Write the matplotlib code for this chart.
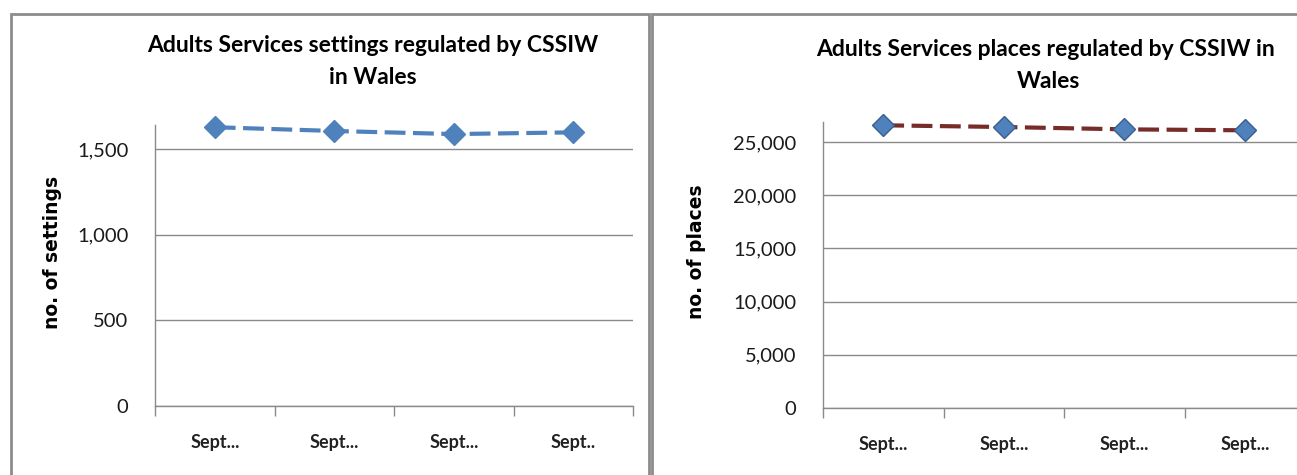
import matplotlib
matplotlib.use("Agg")
import matplotlib.pyplot as plt
from matplotlib.ticker import FuncFormatter, FixedLocator
from matplotlib.patches import Rectangle

categories = ["Sept...", "Sept...", "Sept...", "Sept.."]
categories_r = ["Sept...", "Sept...", "Sept...", "Sept..."]
settings = [1629, 1607, 1589, 1599]
places = [26570, 26410, 26190, 26100]
settings_ticks = [0, 500, 1000, 1500]
places_ticks = [0, 5000, 10000, 15000, 20000, 25000]

W, H = 1297, 475
fig = plt.figure(figsize=(W / 100, H / 100), dpi=100)
fig.patch.set_facecolor("white")

border = "#8c8c8c"
grid = "#8a8a8a"
FONT = "Lato"

def fx(px):
    return px / W

def fy(py):
    return 1 - py / H

# chart borders
fig.add_artist(Rectangle((fx(11), fy(490)), fx(649 - 11), (490 - 14) / H,
                         transform=fig.transFigure, fill=False, ec=border, lw=2))
fig.add_artist(Rectangle((fx(652), fy(490)), fx(1320 - 652), (490 - 14) / H,
                         transform=fig.transFigure, fill=False, ec=border, lw=2))

def style(ax, ticks, ymax, labels):
    n = len(labels)
    ax.set_xlim(0, n)
    ax.set_ylim(0, ymax)
    ax.yaxis.set_major_locator(FixedLocator(ticks))
    ax.yaxis.set_major_formatter(FuncFormatter(lambda v, p: f"{int(v):,}"))
    ax.set_xticks(range(n + 1))
    ax.set_xticklabels([])
    ax.set_xticks([i + 0.5 for i in range(n)], minor=True)
    ax.set_xticklabels(labels, minor=True, fontsize=13, fontfamily=FONT, fontweight="bold", color="#222222")
    ax.tick_params(axis="x", which="major", length=7, color=grid, width=1)
    ax.tick_params(axis="x", which="minor", length=0, pad=20)
    ax.tick_params(axis="y", length=0, pad=19, labelsize=14.5, labelcolor="#1a1a1a")
    for lab in ax.get_yticklabels():
        lab.set_fontfamily(FONT)
    for s in ["top", "right"]:
        ax.spines[s].set_visible(False)
    for s in ["left", "bottom"]:
        ax.spines[s].set_color(grid)
        ax.spines[s].set_linewidth(1)
    ax.grid(axis="y", color=grid, lw=1)
    ax.set_axisbelow(True)
    ax.set_facecolor("none")

# left chart
ax1 = fig.add_axes([fx(155), fy(406), fx(633 - 155), (406 - 125) / H])
x1 = [i + 0.5 for i in range(len(settings))]
ax1.plot(x1, settings, color="#4f81bd", lw=3, ls=(0, (5, 1.8)), marker="D",
         ms=11, mfc="#4f81bd", mec="#4f81bd", clip_on=False)
style(ax1, settings_ticks, 1642, categories)
fig.text(fx(53), fy(252), "no. of settings", rotation=90, ha="center", va="center",
         fontsize=13.5, fontweight="bold", fontfamily="DejaVu Sans")
fig.text(fx(373), fy(45), "Adults Services settings regulated by CSSIW", ha="center", va="center",
         fontsize=16.5, fontweight="bold", fontfamily=FONT)
fig.text(fx(373), fy(77), "in Wales", ha="center", va="center",
         fontsize=16.5, fontweight="bold", fontfamily=FONT)

# right chart
ax2 = fig.add_axes([fx(823), fy(408), fx(1305 - 823), (408 - 122) / H])
x2 = [i + 0.5 for i in range(len(places))]
ax2.plot(x2, places, color="#772c2a", lw=3, ls=(0, (5, 1.8)), marker="D",
         ms=11, mfc="#4f81bd", mec="#3a5f8f", mew=1, clip_on=False)
style(ax2, places_ticks, 26880, categories_r)
fig.text(fx(696), fy(252), "no. of places", rotation=90, ha="center", va="center",
         fontsize=13.5, fontweight="bold", fontfamily="DejaVu Sans")
fig.text(fx(1045), fy(50), "Adults Services places regulated by CSSIW in", ha="center", va="center",
         fontsize=16.5, fontweight="bold", fontfamily=FONT)
fig.text(fx(1048), fy(81), "Wales", ha="center", va="center",
         fontsize=16.5, fontweight="bold", fontfamily=FONT)

fig.savefig("out.png", dpi=100)
